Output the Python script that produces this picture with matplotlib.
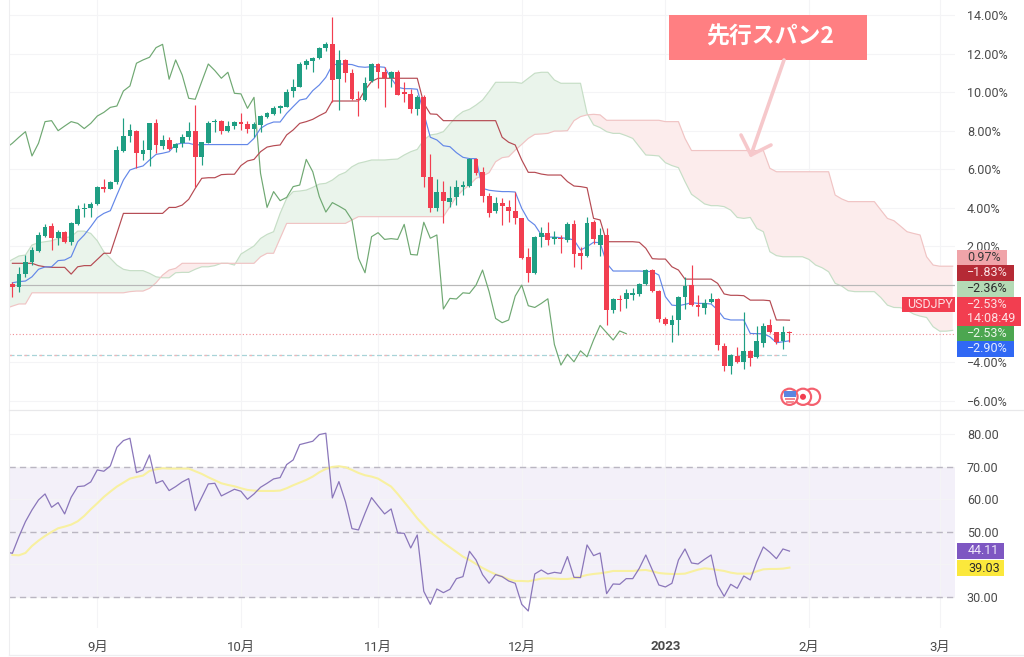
import matplotlib
matplotlib.use('Agg')
import matplotlib.pyplot as plt
import numpy as np
from matplotlib.patches import Rectangle, Circle

plt.rcParams['font.family'] = ['Roboto', 'Noto Sans CJK JP', 'DejaVu Sans']

open_ = [.04,-.13,.56,1.20,1.77,2.52,3.04,2.43,2.74,2.24,
3.16,3.94,3.97,4.20,5.08,4.99,5.34,6.96,7.71,7.98,
6.81,6.99,8.42,7.21,7.52,7.09,7.34,7.69,7.97,6.63,
7.38,8.43,8.50,7.99,8.24,8.43,8.35,8.07,8.31,8.73,
8.87,9.20,9.25,10.04,10.27,11.39,11.60,11.77,12.29,12.50,
10.70,11.67,10.98,9.65,9.59,10.58,11.48,11.05,10.72,11.03,
9.99,9.91,9.14,9.77,5.62,3.97,4.82,4.32,4.54,5.08,
5.13,6.52,5.84,4.61,3.82,4.25,4.04,3.82,3.45,1.43,
.60,2.50,2.67,2.38,2.45,2.33,3.16,1.64,1.50,3.25,
2.07,2.59,-1.30,-.72,-.75,-.53,-.49,.03,.75,-.32,
-1.77,-2.07,-1.82,-.65,0.0,-1.03,-1.18,-.91,-.73,-3.16,
-4.21,-3.69,-3.99,-3.42,-3.74,-3.03,-2.08,-2.45,-2.93,-2.43]
close = [-.13,.56,1.18,1.81,2.60,3.00,2.45,2.73,2.24,3.23,
3.94,3.97,4.21,5.08,4.99,5.34,6.98,7.73,8.02,6.83,
6.99,8.42,7.26,7.50,7.07,7.33,7.69,7.97,6.63,7.40,
8.42,8.49,7.97,8.24,8.45,8.37,8.07,8.35,8.75,8.90,
9.20,9.27,10.03,10.27,11.46,11.64,11.77,12.31,12.48,10.63,
11.67,10.98,9.65,9.59,10.46,11.46,11.05,10.72,11.03,9.87,
9.92,9.13,9.75,5.62,3.97,4.82,4.35,4.49,5.06,5.20,
6.52,5.82,4.61,3.75,4.23,4.11,3.85,3.45,1.38,.63,
2.50,2.67,2.33,2.48,2.36,3.16,1.58,1.52,3.23,2.40,
2.57,-1.30,-.75,-.77,-.42,-.42,.03,.77,-.32,-1.77,
-2.03,-1.82,-.61,-.04,-1.05,-1.17,-.96,-.73,-3.12,-4.21,
-3.64,-4.02,-3.42,-3.78,-2.93,-2.12,-2.43,-2.95,-2.43,-2.52]
high = [.17,.94,1.55,1.98,2.76,3.16,3.19,2.85,2.81,3.28,
4.14,4.23,4.32,5.13,5.49,5.41,7.21,8.68,8.33,8.04,
7.52,8.42,8.63,7.78,7.66,7.38,7.83,8.45,9.32,7.43,
8.49,8.63,8.56,8.49,8.52,8.90,8.52,8.47,8.82,8.99,
9.28,9.33,10.15,10.67,11.57,11.70,11.84,12.36,12.60,13.88,
12.19,11.70,11.19,10.08,10.77,11.53,11.53,11.32,11.12,11.15,
10.55,10.15,9.85,9.85,6.77,5.48,5.39,5.13,5.44,5.41,
6.57,6.57,6.10,4.75,4.58,4.49,4.40,4.84,3.49,1.90,
2.54,3.02,3.28,2.81,2.59,3.28,3.37,1.98,3.50,3.37,
2.93,2.93,-.70,-.53,-.23,-.18,.08,.81,.81,-.27,
-1.69,-1.56,-.56,.43,1.03,-.53,-.73,-.44,-.70,-3.04,
-3.59,-3.21,-1.39,-3.38,-2.14,-1.96,-1.75,-2.43,-2.14,-2.40]
low = [-.65,-.35,.42,1.03,1.70,2.47,1.81,2.07,2.15,2.07,
3.11,3.50,3.54,4.14,4.84,4.96,5.23,6.91,7.43,6.05,
6.48,6.17,6.86,7.03,6.99,6.91,7.17,7.52,5.10,6.24,
7.35,7.95,7.83,7.93,8.07,8.04,7.86,7.66,7.95,8.64,
8.82,8.94,9.21,9.77,10.25,11.19,11.05,11.74,12.15,9.51,
9.08,10.55,9.59,8.76,9.56,10.55,10.20,9.21,10.29,9.84,
9.51,8.90,8.81,5.10,3.80,3.82,3.19,4.06,4.13,4.66,
5.10,5.70,4.32,3.50,3.75,3.11,3.28,3.16,1.34,.17,
.56,1.95,2.07,2.12,1.64,2.24,.94,.81,1.43,2.12,
1.50,-2.08,-1.44,-1.34,-1.22,-.79,-.58,0.0,-.39,-1.91,
-2.08,-2.95,-2.60,-1.27,-1.10,-1.60,-1.51,-.96,-3.38,-4.47,
-4.63,-4.07,-4.37,-4.21,-3.80,-3.21,-2.52,-3.07,-3.30,-2.95]

# conversion line (blue)
tenkan = [.11,.17,.20,.42,.81,.93,.94,1.26,1.29,1.46,
2.24,2.59,3.02,3.49,3.71,3.85,4.66,5.44,5.96,6.08,
6.17,6.48,6.77,6.83,6.91,7.29,7.35,7.35,7.26,7.28,
7.28,7.28,7.28,7.28,7.28,7.28,7.28,7.60,8.12,8.33,
8.45,8.45,8.90,9.25,9.59,9.66,10.08,10.37,10.77,11.41,
11.46,11.45,11.43,11.32,11.29,11.32,11.32,11.29,10.72,10.25,
10.18,10.18,10.15,8.90,7.66,7.52,7.22,7.17,6.86,6.62,
6.55,6.55,5.01,4.91,4.87,4.84,4.84,4.82,3.97,3.37,
3.11,2.59,2.48,2.48,2.45,2.41,2.33,1.81,1.98,2.21,
2.19,1.12,.72,.72,.72,.72,.72,.70,.69,.51,
-.61,-1.05,-1.08,-1.01,-.92,-.96,-.96,-.99,-1.30,-1.74,
-1.82,-1.82,-1.82,-2.52,-2.53,-2.53,-2.69,-3.00,-2.95,-2.90]
# base line (dark red)
kijun = [1.12,1.12,1.12,1.12,1.00,.94,.91,.91,.91,.56,
.94,1.00,1.00,1.32,1.64,1.64,2.67,3.71,3.71,3.71,
3.71,3.71,3.71,3.71,4.02,4.02,4.14,4.44,5.01,5.53,
5.56,5.56,5.72,5.74,5.74,6.19,6.43,6.51,6.91,7.15,
7.22,7.26,7.78,8.04,8.38,8.47,8.59,8.78,8.95,9.54,
9.54,9.54,9.54,9.54,10.11,10.55,10.72,10.72,10.72,10.72,
10.72,10.72,10.72,9.42,8.87,8.85,8.52,8.52,8.52,8.52,
8.52,8.52,8.52,8.52,8.52,7.66,7.40,7.26,6.48,5.84,
5.84,5.75,5.70,5.70,5.70,5.36,5.13,5.10,5.04,3.45,
3.37,2.24,2.24,2.24,2.24,2.24,2.21,1.90,1.36,1.34,
1.34,.94,.77,.30,.30,.30,.30,.30,.08,-.47,
-.54,-.54,-.56,-.79,-.79,-.79,-.82,-1.82,-1.82,-1.83]
# lagging line (green), starts one bar left of the first candle
chikou = [7.09,7.35,7.66,7.95,6.69,7.35,8.47,8.52,8.00,8.24,8.47,
8.38,8.11,8.38,8.76,8.95,9.21,9.28,10.06,10.32,11.50,
11.67,11.81,12.31,12.48,10.67,11.67,10.89,9.68,9.63,10.55,
11.46,11.12,10.72,11.03,9.94,9.91,9.16,9.73,5.79,4.02,
4.84,4.37,4.54,5.10,5.18,6.51,5.87,4.58,3.78,4.27,
4.09,3.89,3.37,1.38,.63,2.50,2.71,2.36,2.40,2.36,
3.14,1.58,1.55,3.25,2.42,2.59,-1.25,-.70,-.73,-.41,
-.44,-.01,.77,-.35,-1.74,-1.96,-1.82,-.58,-.01,-1.08,
-1.17,-.96,-.72,-3.09,-4.16,-3.60,-3.99,-3.42,-3.73,-2.86,
-2.10,-2.48,-2.86,-2.39,-2.53]

span_a = [1.12,1.32,1.50,1.55,2.07,2.19,2.24,2.29,2.41,2.45,2.50,
2.79,2.79,2.67,2.29,1.72,1.38,1.03,.81,.74,.74,
.74,.60,.42,.37,.37,.63,.65,.65,.81,.94,
.94,1.00,1.12,1.12,1.03,1.60,1.81,2.02,2.41,2.62,
2.76,3.71,4.49,4.84,4.87,4.92,5.06,5.23,5.27,5.44,
5.70,5.84,6.13,6.31,6.39,6.48,6.48,6.48,6.51,6.53,
6.74,6.91,7.03,7.52,7.78,7.83,7.95,8.35,8.73,8.99,
9.11,9.33,9.59,10.03,10.51,10.51,10.51,10.51,10.46,10.72,
10.98,11.03,11.03,10.63,10.46,10.46,10.46,10.46,8.90,8.30,
8.16,7.95,7.86,7.86,7.74,7.60,7.17,6.74,6.72,6.69,
6.34,6.19,6.08,5.36,4.70,4.46,4.20,4.11,4.11,4.06,
3.88,3.50,3.45,3.50,2.93,2.76,1.72,1.52,1.46,1.46,
1.46,1.46,1.32,1.03,.89,.68,.08,-.06,-.30,-.35,
-.35,-.35,-.35,-.66,-1.05,-1.17,-1.18,-1.31,-1.51,-1.62,
-1.69,-2.17,-2.40,-2.40,-2.36]
span_b = [-1.22,-1.10,-.99,-.99,-.41,-.41,-.41,-.41,-.41,-.41,-.41,
-.41,-.41,-.41,-.41,-.41,-.41,-.41,-.41,-.35,-.32,
-.32,-.18,.11,.51,.77,.86,1.12,1.12,1.12,1.12,
1.12,1.12,1.12,1.12,1.12,1.12,1.12,1.12,1.46,1.64,
1.64,2.41,3.19,3.19,3.19,3.19,3.19,3.19,3.19,3.19,
3.19,3.19,3.37,3.54,3.54,3.54,3.54,3.54,3.54,3.54,
3.54,3.54,3.54,3.54,3.54,3.54,3.54,4.06,4.58,4.92,
5.18,5.53,5.65,5.82,6.39,6.60,6.65,6.99,7.29,7.60,
7.81,7.83,7.86,7.98,7.98,8.00,8.52,8.73,8.82,8.85,
8.82,8.54,8.54,8.54,8.54,8.54,8.54,8.54,8.54,8.54,
8.47,8.47,8.47,7.60,6.97,6.97,6.97,6.97,6.97,6.97,
6.97,6.97,6.97,6.97,6.97,6.97,6.05,5.87,5.87,5.87,
5.87,5.87,5.87,5.87,5.87,5.87,4.66,4.46,4.32,4.32,
4.32,4.32,4.32,3.88,3.45,3.33,3.05,2.76,2.67,2.59,
1.46,1.03,.97,.97,.97]

rsi = [43.85,43.44,48.56,53.18,56.77,59.85,61.69,57.59,59.03,55.54,60.67,
63.95,64.15,65.38,69.08,68.67,70.31,76.05,78.10,78.82,68.26,
69.08,73.69,64.97,65.79,62.72,63.95,65.38,66.41,56.56,60.67,
64.77,64.97,61.08,62.10,63.13,62.51,60.05,61.69,63.74,64.97,
66.31,66.72,70.72,72.15,76.87,77.38,77.90,79.95,80.36,60.46,
65.49,59.33,51.03,50.62,55.74,60.56,58.00,55.54,57.08,49.69,
49.59,45.08,49.08,31.74,27.74,32.46,31.33,32.36,35.64,36.26,
44.05,41.38,36.87,34.21,36.87,36.26,34.92,34.21,27.74,25.69,
37.08,38.31,37.08,37.59,37.28,42.41,36.05,35.95,46.00,42.72,
43.54,31.03,34.00,33.90,35.64,35.64,38.82,42.92,38.31,33.69,
33.08,34.21,41.38,44.77,40.46,40.15,41.59,42.92,33.69,30.20,
33.90,32.67,36.46,35.23,40.87,45.38,43.74,41.79,44.77,44.11]
rsi_ma = [42.92,42.82,43.54,45.69,47.33,48.77,50.00,51.13,51.64,52.26,
53.28,54.92,56.97,58.82,60.77,62.41,63.95,65.18,66.41,66.92,
67.33,68.77,69.28,69.59,69.49,69.49,69.49,69.49,68.67,67.85,
66.82,65.90,64.97,64.46,64.05,63.44,62.92,62.72,62.61,62.61,
62.61,62.72,63.44,64.36,65.18,66.00,67.03,68.36,69.38,70.00,
70.20,69.90,69.08,68.15,67.44,67.03,66.41,65.18,63.95,61.69,
59.23,56.77,54.20,52.05,49.90,48.36,46.72,45.28,43.85,42.41,
41.38,40.15,38.92,37.90,36.97,36.26,35.44,34.92,34.92,34.82,
35.23,35.64,35.74,35.64,35.54,35.54,35.74,36.26,36.77,37.08,
37.28,37.59,38.00,38.00,38.00,38.00,38.20,38.31,37.90,37.38,
37.18,37.08,37.08,37.18,37.80,38.41,38.82,38.62,38.31,38.00,
37.49,37.18,37.18,37.18,37.90,38.51,38.62,38.62,38.72,39.03]

month_pos = [13, 35, 56, 78, 100, 122, 142]
month_labels = ['9月', '10月', '11月', '12月', '2023', '2月', '3月']
price_ticks = [14, 12, 10, 8, 6, 4, 2, -4, -6]
rsi_ticks = [80, 70, 60, 50, 40, 30]
last_price = -2.53
last_dash = -3.64

GREEN = '#1f9e83'
RED = '#f23e50'
GRID = '#f4f4f6'
TEXT = '#4a4a4a'

W, H = 1024, 657
fig = plt.figure(figsize=(W / 100, H / 100), dpi=100)


def pane(x0, y0, x1, y1):
    return fig.add_axes([x0 / W, 1 - y1 / H, (x1 - x0) / W, (y1 - y0) / H])


ax = pane(9, 0, 955, 410)
rx = pane(9, 411, 955, 628)
xlim = (-0.52, 144.35)

# main pane
ax.set_xlim(*xlim)
ax.set_ylim(-6.49, 14.78)
ax.grid(True, color=GRID, lw=0.8)
ax.set_axisbelow(True)
ax.set_xticks(month_pos)
ax.set_yticks(price_ticks + [0])
ax.set_yticklabels([f'{t:.2f}%'.replace('-', '−') for t in price_ticks] + [''])
ax.yaxis.tick_right()
ax.tick_params(axis='y', length=0, pad=8.5, labelsize=9, labelcolor=TEXT)
ax.tick_params(axis='x', length=0, labelbottom=False)
for s in ax.spines.values():
    s.set_visible(False)

xc = np.arange(-1, 145)
a = np.array(span_a)
b = np.array(span_b)
ax.fill_between(xc, a, b, where=a >= b, interpolate=True, color='#eaf4eb', lw=0, zorder=1)
ax.fill_between(xc, a, b, where=a < b, interpolate=True, color='#fcecec', lw=0, zorder=1)
ax.plot(xc, a, color='#c6dec6', lw=0.85, zorder=2)
ax.plot(xc, b, color='#f0c4c4', lw=0.85, zorder=2)

ax.axhline(0, color='#b8b8b8', lw=0.85, zorder=2)
ax.axhline(last_price, color='#f08a92', lw=0.8, ls=(0, (1, 2)), zorder=2)
ax.plot([-0.52, 119], [last_dash, last_dash], color='#a8d4d8', lw=0.9, ls=(0, (4, 2)), zorder=2)
ax.plot([-0.52, 119], [last_dash, last_dash], color='#f2b4b8', lw=0.9, ls=(0, (2, 10)), zorder=2)

ax.plot(np.arange(-1, 95), chikou, color='#6fa872', lw=0.85, zorder=3)
ax.plot(np.arange(120), kijun, color='#b54a52', lw=0.85, zorder=3)
ax.plot(np.arange(120), tenkan, color='#6387e8', lw=0.85, zorder=3)

for i in range(120):
    col = GREEN if close[i] >= open_[i] else RED
    ax.vlines(i, low[i], high[i], color=col, lw=0.85, zorder=4)
    ax.bar(i, abs(close[i] - open_[i]), bottom=min(open_[i], close[i]), width=0.74, color=col, lw=0, zorder=5)

# rsi pane
rx.set_xlim(*xlim)
rx.set_ylim(20.46, 87.2)
rx.axhspan(30, 70, color='#f3f0f9', lw=0, zorder=0)
rx.grid(True, color=GRID, lw=0.8)
rx.set_axisbelow(True)
rx.set_yticks(rsi_ticks)
rx.set_yticklabels(['80.00', '70.00', '60.00', '50.00', '', '30.00'])
rx.yaxis.tick_right()
rx.tick_params(axis='y', length=0, pad=8.5, labelsize=9, labelcolor=TEXT)
rx.set_xticks(month_pos)
rx.set_xticklabels(month_labels)
rx.tick_params(axis='x', length=0, pad=9, labelsize=9.5, labelcolor=TEXT)
for lab in rx.get_xticklabels():
    if lab.get_text() == '2023':
        lab.set_fontweight('bold')
for s in rx.spines.values():
    s.set_visible(False)
for lev in [70, 50, 30]:
    rx.axhline(lev, color='#bab6c2', lw=1.0, ls=(0, (4.5, 3)), zorder=2)
rx.plot(np.arange(120), rsi_ma, color='#f8f0a0', lw=1.5, zorder=3)
rx.plot(np.arange(-1, 120), rsi, color='#8a76ba', lw=0.9, zorder=4)

# overlay in pixel coordinates: annotation, price tags, flags, borders
ov = fig.add_axes([0, 0, 1, 1], zorder=10)
ov.set_xlim(0, W)
ov.set_ylim(H, 0)
ov.axis('off')
ov.patch.set_alpha(0)

ov.plot([9, 9], [0, 655], color='#eeeef0', lw=0.8)
ov.plot([9, 1024], [410, 410], color='#e8e8ea', lw=0.9)
ov.plot([9, 1024], [655, 655], color='#eeeef0', lw=0.9)


def tag(x0, x1, y0, y1, col, txt=None, tc='white', tx=None):
    ov.add_patch(Rectangle((x0, y0), x1 - x0, y1 - y0, color=col, lw=0))
    if txt:
        ov.text(tx if tx else x0 + 7, (y0 + y1) / 2, txt, color=tc, fontsize=9, va='center', ha='left')


tag(957, 1007, 249.5, 265, '#f0a4a9', '0.97%', '#3a3a3a', 967)
tag(957, 1014, 265, 281, '#b52a35', '−1.83%', '#fbe3e5', 967)
tag(957, 1014, 281, 296.5, '#b4dab5', '−2.36%', '#2c2c2c', 967)
tag(957, 1021, 296.5, 325.5, RED)
ov.text(967, 304.5, '−2.53%', color='#fde0e3', fontsize=9, va='center')
ov.text(967, 318, '14:08:49', color='#fde0e3', fontsize=9, va='center')
tag(902, 955, 296.5, 312, RED, 'USDJPY', '#fde0e3', 907.5)
tag(957, 1014, 325.5, 341, '#4ca650', '−2.53%', '#eaf6ea', 967)
tag(957, 1014, 341, 357, '#3068f4', '−2.90%', '#e6edff', 967)
tag(957, 1003.5, 543, 559, '#7e57c2', '44.11', '#f0eafa', 968)
tag(957, 1003.5, 560, 576, '#fbe83c', '39.03', '#2c2c2c', 968)

# annotation box and hand drawn arrow
ov.add_patch(Rectangle((669, 14.5), 198, 45.5, color='#ff7f82', lw=0))
ov.text(770, 37, '先行スパン2', color='white', fontsize=16.5, fontweight='bold', ha='center', va='center',
        family=['Noto Sans CJK JP', 'DejaVu Sans'])
ov.plot([784, 751], [60, 155], color='#f6c8cb', lw=2.6, solid_capstyle='round')
ov.plot([741, 751, 771], [135, 155, 145], color='#f6c8cb', lw=2.6, solid_capstyle='round', solid_joinstyle='round')

# event flags under the last candles
for cx in [812, 803, 789.5]:
    ov.add_patch(Circle((cx, 396.8), 9.2, fc='#f4606e', ec='none', lw=0))
    ov.add_patch(Circle((cx, 396.8), 7, fc='white', ec='none', lw=0))
ov.add_patch(Circle((803, 396.8), 3, fc=RED, lw=0))
ov.add_patch(Rectangle((783.5, 391), 12, 5.5, color='#5b85e0', lw=0))
ov.add_patch(Rectangle((784.5, 398), 10, 1.5, color='#f28a92', lw=0))
ov.add_patch(Rectangle((785.5, 401), 8, 1.5, color='#f28a92', lw=0))

fig.savefig('out.png', dpi=100, facecolor='white')
